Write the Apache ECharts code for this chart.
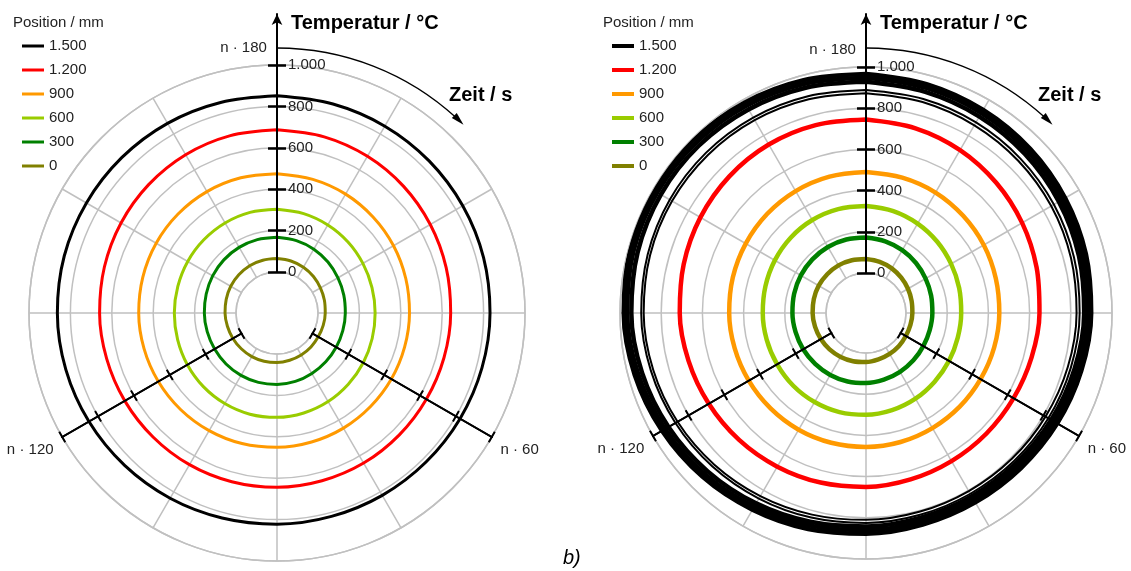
<!DOCTYPE html>
<html>
<head>
<meta charset="utf-8">
<script src="https://cdn.jsdelivr.net/npm/echarts@6/dist/echarts.min.js"></script>
<style>
html, body { margin: 0; padding: 0; background: #fff; }
#main { width: 1131px; height: 571px; }
</style>
</head>
<body>
<div id="main"></div>
<script>
// Zeitachse (Winkel), eine Umdrehung = 180 s
var zeit = [0, 7.5, 15, 22.5, 30, 37.5, 45, 52.5, 60, 67.5, 75, 82.5, 90,
            97.5, 105, 112.5, 120, 127.5, 135, 142.5, 150, 157.5, 165, 172.5, 180];
var tempTicks = [0, 200, 400, 600, 800, 1000];
var zeitLabels = { 0: 'n · 180', 60: 'n · 60', 120: 'n · 120' };
var positionen = ['1.500', '1.200', '900', '600', '300', '0'];
var farben = ['#000000', '#ff0000', '#ff9900', '#99cc00', '#008000', '#808000'];

// linkes Diagramm (Temperatur je Zeitpunkt)
var links1500 = [851, 847, 844, 841, 838, 835, 831, 827, 823, 820, 819, 819, 822, 827, 835, 843, 851, 858, 863, 866, 865, 863, 860, 855, 851];
var links1200 = [687, 683, 676, 667, 657, 648, 641, 637, 635, 636, 639, 641, 644, 646, 648, 649, 651, 654, 659, 665, 672, 679, 685, 688, 687];
var links900  = [475, 470, 465, 458, 452, 446, 442, 440, 440, 441, 444, 447, 451, 455, 458, 461, 464, 467, 470, 473, 476, 478, 479, 478, 475];
var links600  = [303, 299, 293, 287, 281, 277, 276, 278, 283, 289, 296, 302, 306, 308, 307, 305, 302, 299, 298, 298, 300, 302, 304, 305, 303];
var links300  = [168, 164, 158, 150, 142, 136, 132, 131, 132, 135, 139, 144, 147, 149, 150, 150, 150, 151, 153, 156, 161, 165, 168, 169, 168];
var links0    = [65, 62, 57, 51, 44, 39, 35, 33, 32, 34, 36, 38, 41, 43, 45, 46, 48, 50, 53, 56, 60, 63, 66, 66, 65];

// rechtes Diagramm, 1.500 mm über mehrere Umdrehungen
var rechts1500a = [966, 955, 944, 933, 922, 911, 899, 888, 878, 870, 867, 869, 877, 891, 908, 929, 949, 968, 982, 991, 994, 992, 985, 976, 966];
var rechts1500b = [948, 937, 927, 916, 905, 894, 883, 872, 861, 854, 850, 852, 860, 873, 891, 912, 932, 951, 965, 974, 976, 974, 968, 958, 948];
var rechts1500c = [928, 917, 907, 897, 887, 876, 865, 854, 844, 836, 833, 834, 842, 855, 873, 893, 913, 931, 945, 953, 956, 954, 947, 938, 928];
var rechts1500d = [888, 881, 874, 866, 859, 851, 843, 835, 828, 822, 819, 820, 825, 834, 846, 860, 874, 887, 897, 903, 906, 905, 901, 895, 888];
var rechts1500e = [873, 866, 858, 851, 844, 836, 828, 820, 812, 807, 804, 805, 810, 819, 832, 847, 862, 875, 885, 891, 893, 891, 887, 880, 873];
var rechts1200 = [745, 734, 719, 700, 681, 663, 648, 638, 633, 633, 636, 642, 650, 658, 667, 677, 687, 698, 710, 722, 734, 744, 750, 750, 745];
var rechts900  = [490, 486, 481, 473, 466, 458, 453, 450, 448, 449, 451, 454, 456, 458, 460, 461, 463, 466, 470, 475, 480, 485, 489, 491, 490];
var rechts600  = [325, 318, 307, 295, 283, 274, 268, 267, 271, 277, 286, 294, 300, 304, 305, 305, 304, 305, 307, 311, 317, 323, 327, 328, 325];
var rechts300  = [172, 166, 158, 149, 140, 133, 128, 126, 127, 131, 136, 141, 146, 150, 153, 155, 158, 160, 163, 167, 171, 174, 176, 175, 172];
var rechts0    = [68, 63, 56, 48, 41, 35, 31, 29, 29, 32, 35, 39, 44, 48, 52, 56, 59, 62, 65, 68, 71, 72, 73, 71, 68];

var grau = '#c0c0c0';
var schrift = 'Liberation Sans, Arial, sans-serif';

function tausend(v) {
    return String(v).replace(/\B(?=(\d{3})+(?!\d))/g, '.');
}

var diagramme = [
    { cx: 277, cy: 313, r0: 41, r1: 248, legendeX: 22, titelX: 13, icon: 3,
      ringe: [[links1500, 0, 3], [links1200, 1, 3], [links900, 2, 3], [links600, 3, 3], [links300, 4, 3], [links0, 5, 3]] },
    { cx: 866, cy: 313, r0: 40, r1: 246, legendeX: 612, titelX: 603, icon: 4,
      ringe: [[rechts1500a, 0, 4.5], [rechts1500b, 0, 4.5], [rechts1500c, 0, 4.5], [rechts1500d, 0, 2], [rechts1500e, 0, 2],
              [rechts1200, 1, 4.5], [rechts900, 2, 4.5], [rechts600, 3, 4.5], [rechts300, 4, 4.5], [rechts0, 5, 4.5]] }
];

var polar = [], angleAxis = [], radiusAxis = [], series = [], legend = [], graphic = [];

function hilfsAchse(cx, cy, r0, r1, winkel, opts) {
    var idx = polar.length;
    polar.push({ center: [cx, cy], radius: [r0, r1] });
    angleAxis.push({ polarIndex: idx, type: 'value', min: 0, max: 180, startAngle: winkel, clockwise: true, show: false });
    radiusAxis.push(Object.assign({
        polarIndex: idx, type: 'value', min: 0, max: 1000, interval: 200, z: 5,
        splitLine: { show: false }
    }, opts));
}

diagramme.forEach(function (d) {
    var base = polar.length;
    // Hauptgitter mit den Messkurven
    polar.push({ center: [d.cx, d.cy], radius: [d.r0, d.r1] });
    angleAxis.push({
        polarIndex: base, type: 'value', min: 0, max: 180, interval: 15,
        startAngle: 90, clockwise: true,
        axisLine: { show: true, lineStyle: { color: grau, width: 1.5 } },
        axisTick: { show: false },
        splitLine: { show: true, lineStyle: { color: grau, width: 1.5 } },
        axisLabel: {
            show: true, margin: 10, fontSize: 15, color: '#222', fontFamily: schrift,
            formatter: function (v) {
                if (v === 0) return '{o|' + zeitLabels[0] + '}';
                return zeitLabels[v] || '';
            },
            rich: { o: { fontSize: 15, color: '#222', fontFamily: schrift, padding: [0, 67, 0, 0] } }
        }
    });
    radiusAxis.push({
        polarIndex: base, type: 'value', min: 0, max: 1000, interval: 200,
        axisLine: { show: false }, axisTick: { show: false }, axisLabel: { show: false },
        splitLine: { show: true, lineStyle: { color: grau, width: 1.5 } }
    });

    // Temperaturachse mit Pfeil
    hilfsAchse(d.cx, d.cy, d.r0, 299, 90, {
        max: 1, interval: 1,
        axisLine: { show: true, symbol: ['none', 'arrow'], symbolSize: [8, 11], lineStyle: { color: '#000', width: 2 } },
        axisTick: { show: false }, axisLabel: { show: false }
    });
    // Striche zu beiden Seiten der Achse
    [9, -9].forEach(function (laenge, k) {
        hilfsAchse(d.cx, d.cy, d.r0, d.r1, 90, {
            axisLine: { show: false },
            axisTick: { show: true, length: laenge, lineStyle: { color: '#000', width: 2.5 } },
            axisLabel: {
                show: k === 0, margin: -11, align: 'left', fontSize: 15, color: '#222', fontFamily: schrift,
                showMinLabel: true, showMaxLabel: true, formatter: tausend
            }
        });
    });
    // Achsen bei n·60 und n·120
    [-30, 210].forEach(function (w) {
        [6, -6].forEach(function (laenge) {
            hilfsAchse(d.cx, d.cy, d.r0, d.r1, w, {
                axisLine: { show: true, lineStyle: { color: '#000', width: 2 } },
                axisTick: { show: true, length: laenge, lineStyle: { color: '#000', width: 2 } },
                axisLabel: { show: false }
            });
        });
    });

    d.ringe.forEach(function (r) {
        var farbe = farben[r[1]];
        series.push({
            name: positionen[r[1]], type: 'line', coordinateSystem: 'polar', polarIndex: base,
            data: zeit.map(function (t, i) { return [r[0][i], t]; }),
            smooth: 0.34, symbol: 'none', color: farbe,
            itemStyle: { color: farbe },
            lineStyle: { color: farbe, width: r[2] },
            z: 2
        });
    });

    legend.push({
        data: positionen, orient: 'vertical', left: d.legendeX, top: 38, padding: 0,
        icon: 'rect', itemWidth: 22, itemHeight: d.icon, itemGap: 8,
        selectedMode: false,
        textStyle: { fontSize: 15, color: '#222', fontFamily: schrift, lineHeight: 16 }
    });

    // Beschriftungen und Zeitpfeil
    graphic.push({ type: 'text', x: d.titelX, y: 23, style: { text: 'Position / mm', font: '15px ' + schrift, fill: '#222', verticalAlign: 'middle' } });
    graphic.push({ type: 'text', x: d.cx + 14, y: 23, style: { text: 'Temperatur / °C', font: 'bold 20px ' + schrift, fill: '#000', verticalAlign: 'middle' } });
    graphic.push({ type: 'text', x: d.cx + 172, y: 95, style: { text: 'Zeit / s', font: 'bold 20px ' + schrift, fill: '#000', verticalAlign: 'middle' } });

    var r = 265, aTip = -0.79, len = 13, w = 3.5;
    var tip = [d.cx + r * Math.cos(aTip), d.cy + r * Math.sin(aTip)];
    var t = [-Math.sin(aTip), Math.cos(aTip)];
    var nv = [-t[1], t[0]];
    var b = [tip[0] - len * t[0], tip[1] - len * t[1]];
    graphic.push({ type: 'arc', shape: { cx: d.cx, cy: d.cy, r: r, startAngle: -Math.PI / 2, endAngle: aTip - (len - 3) / r, clockwise: true },
        style: { stroke: '#000', lineWidth: 1.3, fill: null } });
    graphic.push({ type: 'polygon', shape: { points: [tip, [b[0] + w * nv[0], b[1] + w * nv[1]], [b[0] - w * nv[0], b[1] - w * nv[1]]] },
        style: { fill: '#000' } });
});

graphic.push({ type: 'text', x: 563, y: 558, style: { text: 'b)', font: 'italic 20px ' + schrift, fill: '#000', verticalAlign: 'middle' } });

var myChart = echarts.init(document.getElementById('main'));
myChart.setOption({
    animation: false,
    backgroundColor: '#fff',
    polar: polar,
    angleAxis: angleAxis,
    radiusAxis: radiusAxis,
    legend: legend,
    graphic: graphic,
    series: series
});
</script>
</body>
</html>
